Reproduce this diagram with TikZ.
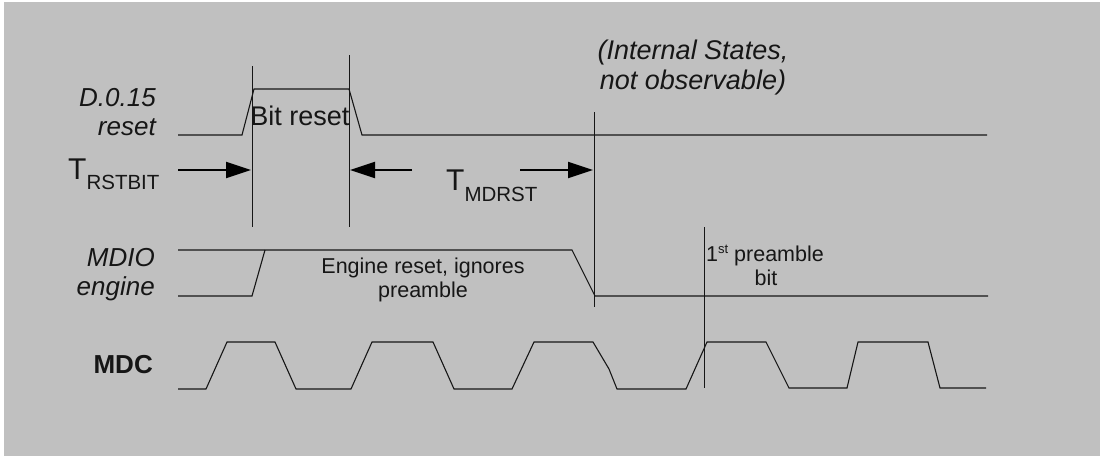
\documentclass[tikz,border=0pt]{standalone}
\usepackage{fontspec}
\setmainfont{Liberation Sans}
\usetikzlibrary{arrows.meta}
\definecolor{bg}{RGB}{192,192,192}
\definecolor{ink}{RGB}{22,22,22}
\begin{document}
\begin{tikzpicture}[x=1pt,y=-1pt,
  wave/.style={draw=ink,line width=1.1pt,line join=miter},
  marker/.style={draw=ink,line width=1pt},
  timearrow/.style={draw=black,line width=2pt,-{Triangle[length=25pt,width=16pt]}},
  siglabel/.style={font=\fontsize{26}{30}\selectfont\itshape,anchor=base east,inner sep=0pt,text=ink},
  biglabel/.style={font=\fontsize{27}{30}\selectfont,anchor=base,inner sep=0pt,text=ink},
  smalllabel/.style={font=\fontsize{21.5}{24}\selectfont,anchor=base,inner sep=0pt,text=ink},
  tlabel/.style={font=\fontsize{30}{32}\selectfont,anchor=base west,inner sep=0pt,text=ink}]
\fill[white] (0,0) rectangle (1100,456);
\fill[bg] (4,2) rectangle (1100,456);
\useasboundingbox (0,0) rectangle (1100,456);

% signal labels
\node[siglabel] (d015) at (156,106) {D.0.15};
\node[siglabel] (dreset) at (156,135) {reset};
\node[siglabel] (mdio) at (155,266) {MDIO};
\node[siglabel] (engine) at (155,295) {engine};
\node[siglabel,font=\fontsize{26}{30}\selectfont\bfseries] (mdc) at (153,373) {MDC};

% D.0.15 reset waveform
\draw[wave] (178,135) -- (242,135) -- (254,89) -- (349,89) -- (362,135) -- (987,135);
% MDIO engine waveform
\draw[wave] (178,250) -- (572,250) -- (595,296) -- (988,296);
\draw[wave] (178,296) -- (252,296) -- (265,250);
% MDC waveform
\draw[wave] (178,389) -- (206,389) -- (227,342) -- (275,342) -- (296,389) -- (351,389)
  -- (372,342) -- (433,342) -- (454,389) -- (512,389) -- (534,342) -- (593,342)
  -- (609,369) -- (617,389) -- (686,389) -- (707,342) -- (766,342) -- (789,388)
  -- (847,388) -- (858,342) -- (928,342) -- (940,388) -- (986,388);

% marker lines
\draw[marker] (252,66) -- (252,227);
\draw[marker] (349,55) -- (349,227);
\draw[marker] (594,112) -- (594,307);
\draw[marker] (704,227) -- (704,388);

% timing arrows
\coordinate (a1s) at (178,170);
\coordinate (a1e) at (251,170);
\coordinate (a2s) at (412,170);
\coordinate (a2e) at (350,170);
\coordinate (a3s) at (520,170);
\coordinate (a3e) at (593,170);
\draw[timearrow] (a1s) -- (a1e);
\draw[timearrow] (a2s) -- (a2e);
\draw[timearrow] (a3s) -- (a3e);

\node[tlabel] (trstbit) at (68,179) {T\raisebox{-10.5pt}{\fontsize{20.5}{22}\selectfont RSTBIT}};
\node[tlabel] (tmdrst) at (446,190) {T\raisebox{-11pt}{\fontsize{20.5}{22}\selectfont MDRST}};

% texts
\node[biglabel] (bitreset) at (300,125) {Bit reset};
\node[biglabel,font=\fontsize{27}{30}\selectfont\itshape] (int1) at (693,59) {(Internal States,};
\node[biglabel,font=\fontsize{27}{30}\selectfont\itshape] (int2) at (693,89) {not observable)};
\node[smalllabel] (eng1) at (423,273) {Engine reset, ignores};
\node[smalllabel] (eng2) at (423,297) {preamble};
\node[smalllabel] (pre1) at (765,261) {1\raisebox{8pt}{\fontsize{13}{13}\selectfont st} preamble};
\node[smalllabel] (pre2) at (766,285) {bit};
\end{tikzpicture}
\end{document}
